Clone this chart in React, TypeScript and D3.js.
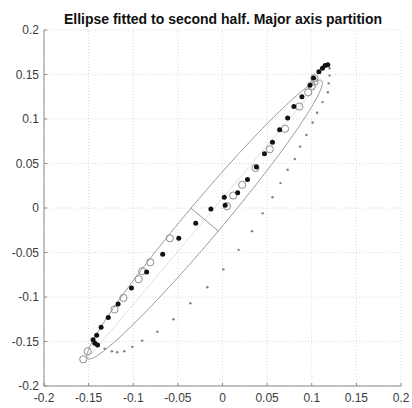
import React from "react";
import * as d3 from "d3";

const title = "Ellipse fitted to second half. Major axis partition";
const xTicks = [-0.2, -0.15, -0.1, -0.05, 0, 0.05, 0.1, 0.15, 0.2];
const yTicks = [-0.2, -0.15, -0.1, -0.05, 0, 0.05, 0.1, 0.15, 0.2];
const tickLabels = ["-0.2", "-0.15", "-0.1", "-0.05", "0", "0.05", "0.1", "0.15", "0.2"];

const filledX = [0.118, 0.115, 0.112, 0.108, 0.102, 0.098, 0.089, 0.080, 0.073, 0.064, 0.056, 0.047, 0.038, 0.028, 0.017, 0.002, 0.003, -0.013, -0.030, -0.049, -0.067, -0.085, -0.102, -0.117, -0.128, -0.136, -0.141, -0.145, -0.143, -0.140];
const filledY = [0.161, 0.160, 0.157, 0.153, 0.146, 0.138, 0.125, 0.114, 0.101, 0.088, 0.074, 0.061, 0.046, 0.032, 0.017, 0.012, 0.003, -0.001, -0.017, -0.034, -0.052, -0.072, -0.090, -0.108, -0.123, -0.134, -0.143, -0.148, -0.152, -0.154];

const openX = [0.103, 0.103, 0.100, 0.096, 0.086, 0.070, 0.053, 0.037, 0.022, 0.012, 0.005, -0.059, -0.081, -0.090, -0.094, -0.111, -0.121, -0.151, -0.156];
const openY = [0.146, 0.142, 0.137, 0.130, 0.114, 0.089, 0.066, 0.045, 0.026, 0.014, 0.002, -0.034, -0.061, -0.071, -0.080, -0.101, -0.114, -0.161, -0.170];

const dotX = [0.120, 0.120, 0.119, 0.118, 0.112, 0.106, 0.101, 0.094, 0.087, 0.081, 0.073, 0.065, 0.056, 0.045, 0.033, 0.018, 0.001, -0.017, -0.036, -0.055, -0.073, -0.090, -0.101, -0.110, -0.118, -0.124, -0.132];
const dotY = [0.157, 0.149, 0.140, 0.130, 0.119, 0.107, 0.096, 0.082, 0.069, 0.055, 0.043, 0.028, 0.012, -0.006, -0.026, -0.047, -0.069, -0.089, -0.107, -0.125, -0.139, -0.149, -0.156, -0.161, -0.162, -0.161, -0.158];

// ellipse parameters (data units)
const ellCx = -0.020;
const ellCy = -0.013;
const ellA = 0.204;
const ellB = 0.020;
const ellAngleDeg = 50;

const W = 412;
const H = 408;

export default function App() {
  const x = d3.scaleLinear().domain([-0.2, 0.2]).range([44, 401]);
  const y = d3.scaleLinear().domain([-0.2, 0.2]).range([386, 30]);

  const th = (ellAngleDeg * Math.PI) / 180;
  const ellPts: [number, number][] = d3.range(0, 361, 2).map((deg) => {
    const t = (deg * Math.PI) / 180;
    const ex = ellA * Math.cos(t);
    const ey = ellB * Math.sin(t);
    return [
      x(ellCx + ex * Math.cos(th) - ey * Math.sin(th)),
      y(ellCy + ex * Math.sin(th) + ey * Math.cos(th)),
    ];
  });
  const line = d3.line();
  const ellPath = line(ellPts) + "Z";

  const minor = [
    [x(ellCx + ellB * Math.sin(th)), y(ellCy - ellB * Math.cos(th))],
    [x(ellCx - ellB * Math.sin(th)), y(ellCy + ellB * Math.cos(th))],
  ];
  const major = [
    [x(ellCx + ellA * Math.cos(th)), y(ellCy + ellA * Math.sin(th))],
    [x(ellCx - ellA * Math.cos(th)), y(ellCy - ellA * Math.sin(th))],
  ];

  const font = "Liberation Sans, Arial, Helvetica, sans-serif";
  const axisColor = "#8a8a8a";
  const textColor = "#3c3c3c";

  return (
    <svg width={W} height={H} style={{ position: "absolute", left: 0, top: 0, background: "#fff" }}>
      <rect x={0} y={0} width={W} height={H} fill="#fff" />
      {/* grid */}
      {xTicks.map((t, i) => (
        <line key={"gx" + i} x1={x(t)} x2={x(t)} y1={y(-0.2)} y2={y(0.2)} stroke="#d0d0d0" strokeWidth={0.8} strokeDasharray="1,2" />
      ))}
      {yTicks.map((t, i) => (
        <line key={"gy" + i} y1={y(t)} y2={y(t)} x1={x(-0.2)} x2={x(0.2)} stroke="#d0d0d0" strokeWidth={0.8} strokeDasharray="1,2" />
      ))}
      {/* ellipse */}
      <path d={ellPath} fill="none" stroke="#9a9a9a" strokeWidth={1} />
      <line x1={major[0][0]} y1={major[0][1]} x2={major[1][0]} y2={major[1][1]} stroke="#d2d2d2" strokeWidth={0.7} />
      <line x1={minor[0][0]} y1={minor[0][1]} x2={minor[1][0]} y2={minor[1][1]} stroke="#9a9a9a" strokeWidth={1} />
      {/* small dots */}
      {dotX.map((v, i) => (
        <circle key={"d" + i} cx={x(v)} cy={y(dotY[i])} r={1.2} fill="#7f7f7f" />
      ))}
      {/* open circles */}
      {openX.map((v, i) => (
        <circle key={"o" + i} cx={x(v)} cy={y(openY[i])} r={3.6} fill="none" stroke="#8c8c8c" strokeWidth={1} />
      ))}
      {/* filled */}
      {filledX.map((v, i) => (
        <circle key={"f" + i} cx={x(v)} cy={y(filledY[i])} r={2.5} fill="#111" />
      ))}
      {/* axes */}
      <line x1={x(-0.2)} x2={x(-0.2)} y1={y(-0.2)} y2={y(0.2)} stroke={axisColor} strokeWidth={1} />
      <line x1={x(-0.2)} x2={x(0.2)} y1={y(-0.2)} y2={y(-0.2)} stroke={axisColor} strokeWidth={1} />
      {xTicks.map((t, i) => (
        <g key={"xt" + i}>
          <line x1={x(t)} x2={x(t)} y1={y(-0.2)} y2={y(-0.2) - 3} stroke={axisColor} />
          <text x={x(t)} y={y(-0.2) + 16} textAnchor="middle" fontFamily={font} fontSize={12} fill={textColor}>
            {tickLabels[i]}
          </text>
        </g>
      ))}
      {yTicks.map((t, i) => (
        <g key={"yt" + i}>
          <line x1={x(-0.2)} x2={x(-0.2) + 3} y1={y(t)} y2={y(t)} stroke={axisColor} />
          <text x={x(-0.2) - 5} y={y(t) + 4} textAnchor="end" fontFamily={font} fontSize={12} fill={textColor}>
            {tickLabels[i]}
          </text>
        </g>
      ))}
      <text x={223} y={24} textAnchor="middle" fontFamily={font} fontSize={14} fontWeight="bold" fill="#111">
        {title}
      </text>
    </svg>
  );
}
